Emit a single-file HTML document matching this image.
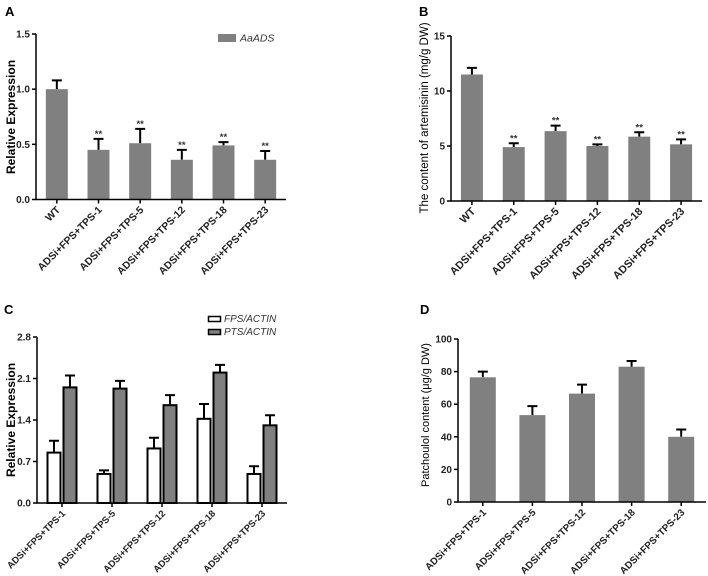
<!DOCTYPE html>
<html><head><meta charset="utf-8"><style>
html,body{margin:0;padding:0;background:#fff;}
svg{display:block;font-family:"Liberation Sans",Arial,sans-serif;}
</style></head><body>
<svg id="fig" width="708" height="576" viewBox="0 0 708 576">
<text x="5" y="16" font-size="13" font-weight="bold">A</text>
<text x="419" y="16" font-size="13" font-weight="bold">B</text>
<text x="4" y="314" font-size="13" font-weight="bold">C</text>
<text x="420" y="314" font-size="13" font-weight="bold">D</text>
<text transform="translate(15,117) rotate(-90)" text-anchor="middle" font-size="12" font-weight="bold">Relative Expression</text>
<text transform="translate(428,118) rotate(-90)" text-anchor="middle" font-size="11.5">The content of artemisinin (mg/g DW)</text>
<text transform="translate(15,420) rotate(-90)" text-anchor="middle" font-size="12" font-weight="bold">Relative Expression</text>
<text transform="translate(429,415) rotate(-90)" text-anchor="middle" font-size="11">Patchoulol content (μg/g DW)</text>
<rect x="218" y="34" width="18" height="8" fill="#808080"/>
<text x="240" y="41.5" font-size="10.5" font-style="italic" fill="#333">AaADS</text>
<rect x="208.5" y="316.5" width="12" height="5" fill="#fff" stroke="#000" stroke-width="1.5"/>
<text x="224" y="322" font-size="10" font-style="italic" fill="#333">FPS/ACTIN</text>
<rect x="208.5" y="329.5" width="12" height="5" fill="#808080" stroke="#000" stroke-width="1.5"/>
<text x="224" y="335" font-size="10" font-style="italic" fill="#333">PTS/ACTIN</text>
</svg>
<script>
const catsA = ["WT","ADSi+FPS+TPS-1","ADSi+FPS+TPS-5","ADSi+FPS+TPS-12","ADSi+FPS+TPS-18","ADSi+FPS+TPS-23"];
const valsA = [1.0,0.45,0.51,0.36,0.49,0.36];
const errA = [0.08,0.1,0.13,0.09,0.03,0.08];
const ticksA = [0,0.5,1.0,1.5];
const tickLabelsA = ["0.0","0.5","1.0","1.5"];
const sigA = ["","**","**","**","**","**"];

const catsB = ["WT","ADSi+FPS+TPS-1","ADSi+FPS+TPS-5","ADSi+FPS+TPS-12","ADSi+FPS+TPS-18","ADSi+FPS+TPS-23"];
const valsB = [11.5,4.9,6.35,5.0,5.85,5.15];
const errB = [0.6,0.35,0.5,0.15,0.4,0.45];
const ticksB = [0,5,10,15];
const tickLabelsB = ["0","5","10","15"];
const sigB = ["","**","**","**","**","**"];

const catsC = ["ADSi+FPS+TPS-1","ADSi+FPS+TPS-5","ADSi+FPS+TPS-12","ADSi+FPS+TPS-18","ADSi+FPS+TPS-23"];
const fpsC = [0.85,0.49,0.92,1.42,0.49];
const fpsErrC = [0.2,0.06,0.18,0.25,0.13];
const ptsC = [1.95,1.93,1.65,2.2,1.31];
const ptsErrC = [0.2,0.13,0.17,0.13,0.17];
const ticksC = [0,0.7,1.4,2.1,2.8];
const tickLabelsC = ["0.0","0.7","1.4","2.1","2.8"];

const catsD = ["ADSi+FPS+TPS-1","ADSi+FPS+TPS-5","ADSi+FPS+TPS-12","ADSi+FPS+TPS-18","ADSi+FPS+TPS-23"];
const valsD = [76.5,53.3,66.5,83,40];
const errD = [3.5,5.5,5.5,3.5,4.5];
const ticksD = [0,20,40,60,80,100];
const tickLabelsD = ["0","20","40","60","80","100"];

const NS = "http://www.w3.org/2000/svg";
const svg = document.getElementById("fig");
function mk(tag, attrs, parent){
  const e = document.createElementNS(NS, tag);
  for (const k in attrs) e.setAttribute(k, attrs[k]);
  (parent||svg).appendChild(e);
  return e;
}
function panel(p){
  const g = mk("g", {});
  
  
  const y = v => p.y0 - (v - p.min) / (p.max - p.min) * (p.y0 - p.y1);
  const n = p.cats.length;
  const step = (p.xEnd - p.x0) / n;
  const cx = i => p.x0 + step * (i + 0.5);
  p.series.forEach((s) => {
    s.vals.forEach((v, i) => {
      const xc = cx(i) + s.off;
      const top = y(v + s.err[i]);
      const eb = mk("path", {d:`M${xc} ${y(v)}V${top}M${xc-5} ${top}H${xc+5}`, stroke:"#000", "stroke-width":2, fill:"none"}, g);
      
      
      const r = mk("rect", {x:xc - s.w/2, y:y(v), width:s.w, height:p.y0 - y(v), fill:s.fill}, g);
      if (s.stroke){ r.setAttribute("stroke", "#000"); r.setAttribute("stroke-width", 2); }
      
      
      if (s.sig && s.sig[i]){
        const t = mk("text", {x:xc, y:top - 2, "text-anchor":"middle", "font-size":9.5, "font-weight":"bold", fill:"#333"}, g);
        t.textContent = s.sig[i];
        
        
      }
    });
  });
  const ax = mk("path", {d:`M${p.x0} ${p.y1}V${p.y0}H${p.xEnd}`, stroke:"#000", "stroke-width":1.5, fill:"none"}, g);
  
  
  p.ticks.forEach((t, i) => {
    mk("path", {d:`M${p.x0-4} ${y(t)}H${p.x0}`, stroke:"#000", "stroke-width":1.5}, g);
    const tl = mk("text", {x:p.x0 - 6, y:y(t) + 3.5, "text-anchor":"end", "font-size":10, "font-weight":"bold", fill:"#222"}, g);
    tl.textContent = p.tickLabels[i];
    
    
  });
  p.cats.forEach((c, i) => {
    const x = cx(i) + (p.catOff||0);
    mk("path", {d:`M${x} ${p.y0}V${p.y0+4}`, stroke:"#000", "stroke-width":1.5}, g);
    const tl = mk("text", {x:x + 4, y:p.y0 + 11, "text-anchor":"end", "font-size":p.fs, "font-weight":"bold", fill:"#222", transform:`rotate(-45 ${x+4} ${p.y0+11})`}, g);
    tl.textContent = c;
    
    
  });
}
panel({name:"panel-a-chart", fs:10.3, cats:catsA, x0:36, xEnd:286, y0:199.5, y1:34, min:0, max:1.5, ticks:ticksA, tickLabels:tickLabelsA,
  series:[{key:"aaads", vals:valsA, err:errA, off:0, w:22, fill:"#808080", sig:sigA}]});
panel({name:"panel-b-chart", fs:10.8, cats:catsB, x0:451, xEnd:702, y0:201, y1:36, min:0, max:15, ticks:ticksB, tickLabels:tickLabelsB,
  series:[{key:"artemisinin", vals:valsB, err:errB, off:0, w:22, fill:"#808080", sig:sigB}]});
panel({name:"panel-c-chart", fs:9.4, cats:catsC, x0:37, xEnd:287, y0:503, y1:337, min:0, max:2.8, ticks:ticksC, tickLabels:tickLabelsC, catOff:0,
  series:[{key:"fps", vals:fpsC, err:fpsErrC, off:-8, w:13, fill:"#fff", stroke:true},
          {key:"pts", vals:ptsC, err:ptsErrC, off:8, w:13, fill:"#808080", stroke:true}]});
panel({name:"panel-d-chart", fs:9.8, cats:catsD, x0:458, xEnd:706, y0:502, y1:339, min:0, max:100, ticks:ticksD, tickLabels:tickLabelsD,
  series:[{key:"patchoulol", vals:valsD, err:errD, off:0, w:26, fill:"#808080"}]});
</script>
</body></html>
